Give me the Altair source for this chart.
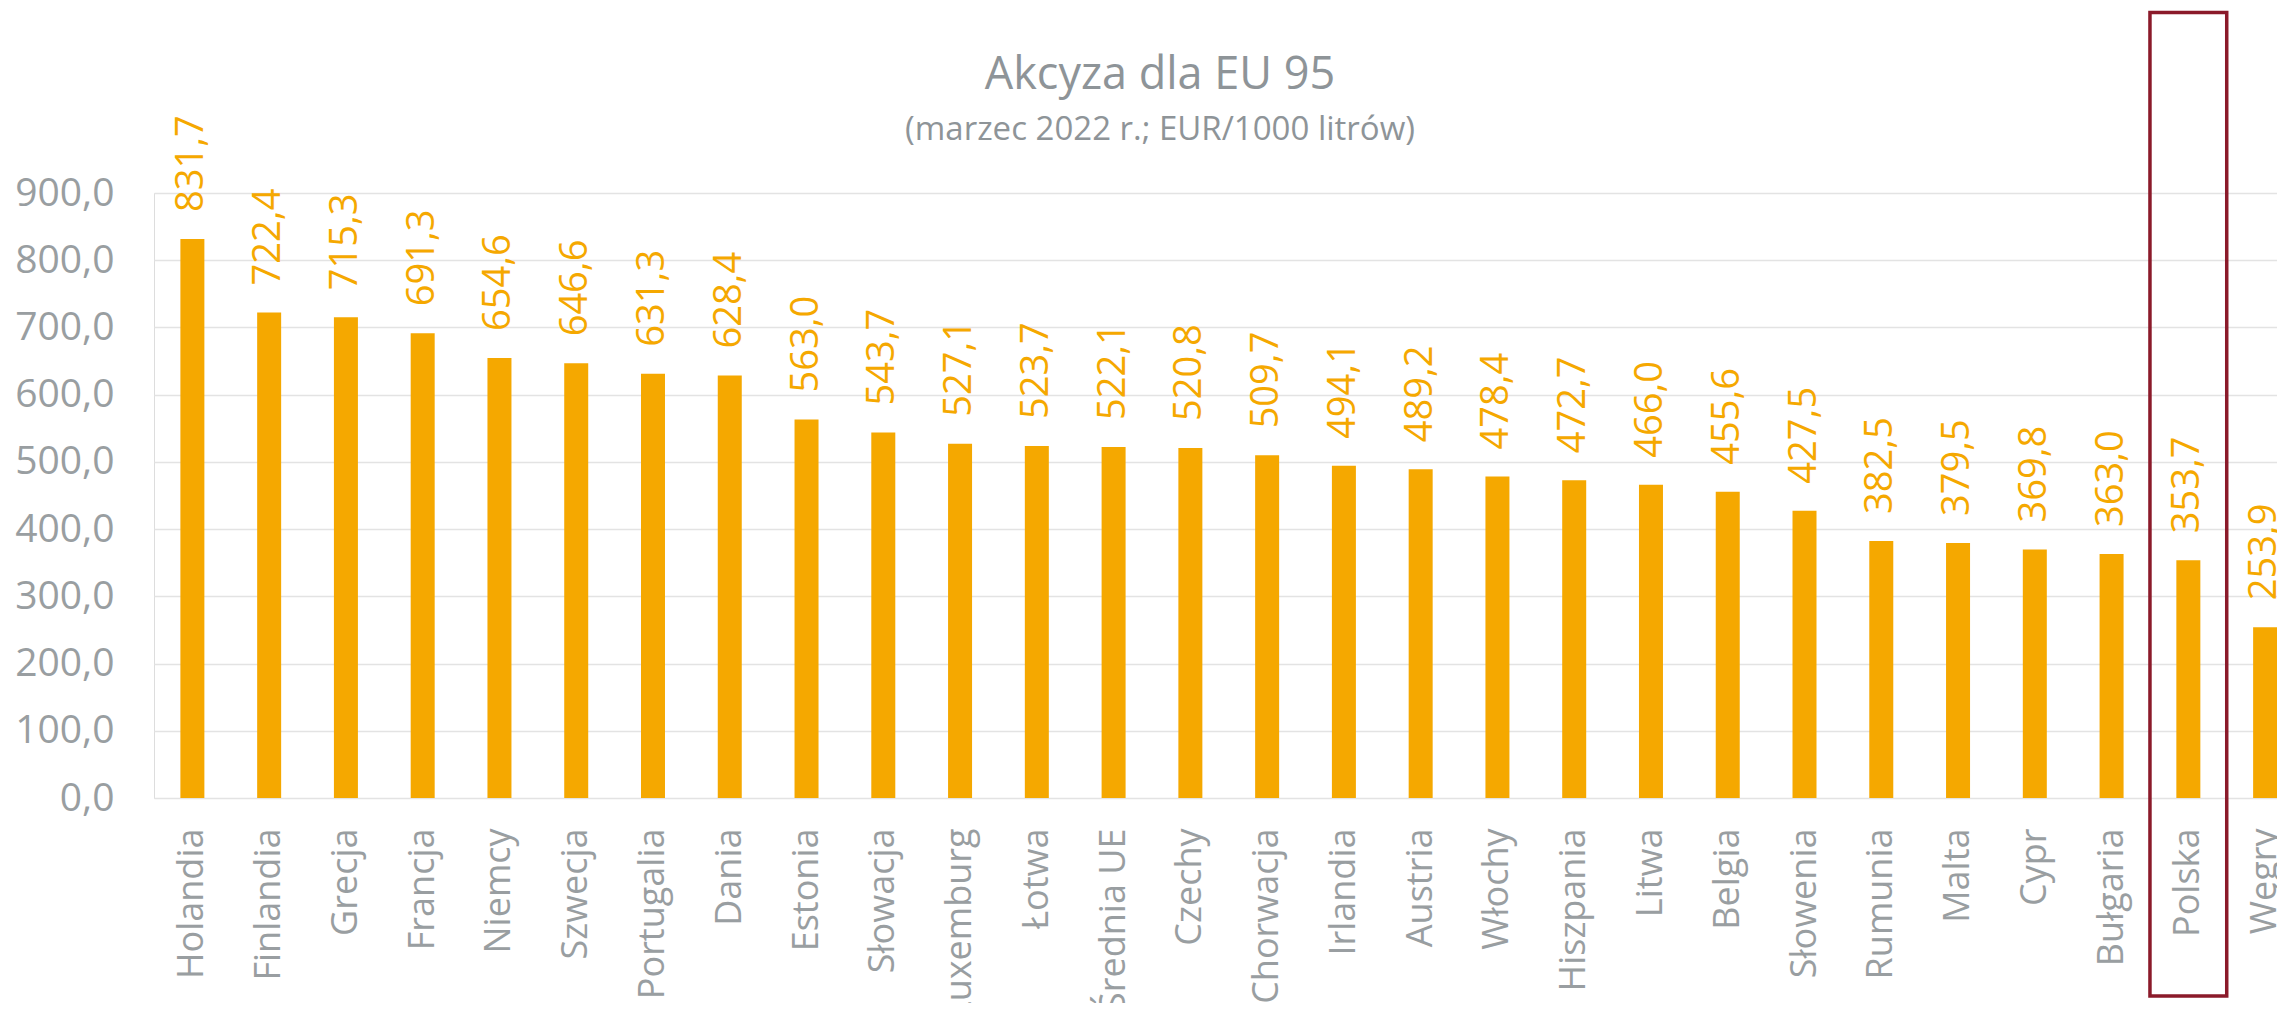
import altair as alt
import pandas as pd

countries = ["Holandia", "Finlandia", "Grecja", "Francja", "Niemcy", "Szwecja",
             "Portugalia", "Dania", "Estonia", "Słowacja", "Luxemburg", "Łotwa",
             "Średnia UE", "Czechy", "Chorwacja", "Irlandia", "Austria", "Włochy",
             "Hiszpania", "Litwa", "Belgia", "Słowenia", "Rumunia", "Malta", "Cypr",
             "Bułgaria", "Polska", "Węgry"]
values = [831.7, 722.4, 715.3, 691.3, 654.6, 646.6, 631.3, 628.4, 563.0, 543.7,
          527.1, 523.7, 522.1, 520.8, 509.7, 494.1, 489.2, 478.4, 472.7, 466.0,
          455.6, 427.5, 382.5, 379.5, 369.8, 363.0, 353.7, 253.9]
highlight = ["Polska"]
title_text = "Akcyza dla EU 95"
subtitle_text = "(marzec 2022 r.; EUR/1000 litrów)"

df = pd.DataFrame({"kraj": countries, "akcyza": values})
one = pd.DataFrame({"t": [title_text], "s": [subtitle_text]})

ORANGE = "#F5A800"
GRAY = "#999EA1"
FONT = "Open Sans"

x_enc = alt.X("kraj:N", sort=countries, title=None,
              scale=alt.Scale(paddingInner=0, paddingOuter=0, range=[0, 2149.5]),
              axis=alt.Axis(labelAngle=-90, labelFont=FONT, labelFontSize=36,
                            labelColor=GRAY, labelPadding=30, ticks=False,
                            domain=False, grid=False, labelOverlap=False,
                            labelLimit=0))
y_enc = alt.Y("akcyza:Q", title=None,
              scale=alt.Scale(domain=[0, 900], nice=False),
              axis=alt.Axis(values=list(range(0, 901, 100)), labelFont=FONT,
                            labelFontSize=39, labelColor=GRAY, labelPadding=40,
                            ticks=False, domain=False, gridColor="#E3E3E3",
                            gridWidth=1.5,
                            labelExpr="replace(format(datum.value, '.1f'), '.', ',')"))

base = alt.Chart(df)

bars = base.mark_bar(color=ORANGE, width=alt.RelativeBandSize(0.3126)).encode(
    x=x_enc, y=y_enc)

labels = base.transform_calculate(
    lab="replace(format(datum.akcyza, '.1f'), '.', ',')"
).mark_text(angle=270, align="left", baseline="middle", dx=27, color=ORANGE,
            font=FONT, fontSize=38).encode(
    x=alt.X("kraj:N", sort=countries), y="akcyza:Q", text="lab:N")

box = base.transform_filter(
    alt.FieldOneOfPredicate(field="kraj", oneOf=highlight)
).mark_rect(filled=False, stroke="#8B1A2A", strokeWidth=3.5).encode(
    x=alt.X("kraj:N", sort=countries),
    y=alt.value(-180.5), y2=alt.value(803))

title = alt.Chart(one).mark_text(font=FONT, fontSize=45, color="#8E9498",
                                 align="center", baseline="alphabetic").encode(
    x=alt.value(1006), y=alt.value(-104), text="t:N")
subtitle = alt.Chart(one).mark_text(font=FONT, fontSize=33, color="#8E9498",
                                    align="center", baseline="alphabetic").encode(
    x=alt.value(1006), y=alt.value(-53), text="s:N")

chart = alt.layer(bars, labels, box, title, subtitle).properties(
    width=2123, height=605,
    autosize=alt.AutoSizeParams(type="none"),
    padding={"left": 146, "top": 185, "right": 0, "bottom": 205},
).configure_view(stroke=None).configure(background="white")

chart.save("out.html", embed_options={"renderer": "svg", "actions": False})
